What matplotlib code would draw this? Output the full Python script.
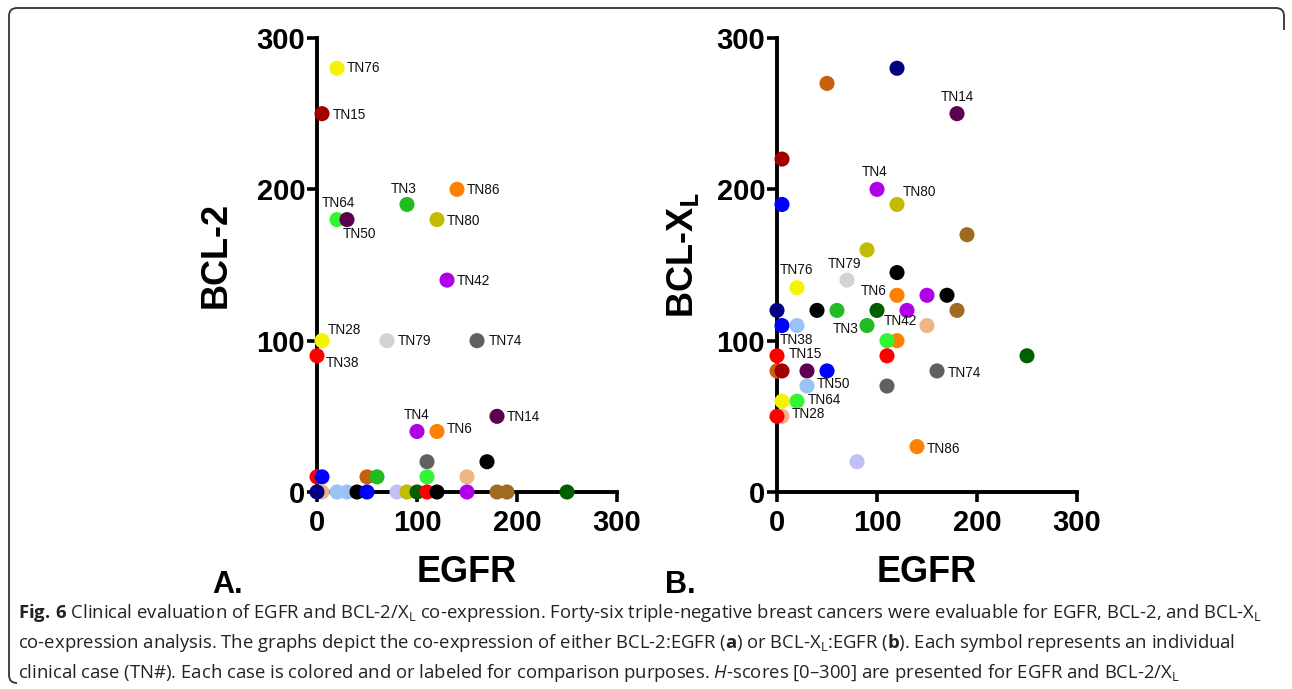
import matplotlib
matplotlib.use("Agg")
import matplotlib.pyplot as plt
import matplotlib.patches as mpatches
from matplotlib.path import Path

plt.rcParams['mathtext.fontset'] = 'custom'
plt.rcParams['mathtext.rm'] = 'Open Sans'
plt.rcParams['mathtext.bf'] = 'Open Sans:bold'
plt.rcParams['mathtext.it'] = 'Open Sans:italic'

# ---------------- data ----------------
C = {
    'yellow': '#f7f200', 'darkred': '#a00000', 'green': '#22bb22', 'orange': '#ff8000',
    'brightgreen': '#33f533', 'darkpurple': '#5e0050', 'olive': '#c2bb00', 'purple': '#b000e6',
    'red': '#ff0000', 'lightgray': '#d3d3d3', 'gray': '#606060', 'black': '#000000',
    'peach': '#f0b585', 'brownorange': '#c8600a', 'blue': '#0000ff', 'navy': '#000080',
    'lightblue': '#99c2f5', 'lavender': '#c0c0f5', 'darkgreen': '#006000', 'brown': '#a06a20',
}

# Panel A: BCL-2 vs EGFR
a_egfr = [20, 5, 90, 140, 20, 30, 120, 130, 5, 0, 70, 160, 100, 120, 180,
          170, 110, 110, 150, 50, 60, 0, 5, 5, 0, 20, 30, 40, 50, 80, 90, 100,
          110, 120, 150, 180, 190, 250]
a_bcl2 = [280, 250, 190, 200, 180, 180, 180, 140, 100, 90, 100, 100, 40, 40, 50,
          20, 20, 10, 10, 10, 10, 10, 10, 0, 0, 0, 0, 0, 0, 0, 0, 0,
          0, 0, 0, 0, 0, 0]
a_colors = ['yellow', 'darkred', 'green', 'orange', 'brightgreen', 'darkpurple', 'olive',
            'purple', 'yellow', 'red', 'lightgray', 'gray', 'purple', 'orange', 'darkpurple',
            'black', 'gray', 'brightgreen', 'peach', 'brownorange', 'green', 'red', 'blue',
            'peach', 'navy', 'lightblue', 'lightblue', 'black', 'blue', 'lavender', 'olive',
            'darkgreen', 'red', 'black', 'purple', 'brown', 'brown', 'darkgreen']
a_labels = {0: 'TN76', 1: 'TN15', 2: 'TN3', 3: 'TN86', 4: 'TN64', 5: 'TN50', 6: 'TN80',
            7: 'TN42', 8: 'TN28', 9: 'TN38', 10: 'TN79', 11: 'TN74', 12: 'TN4',
            13: 'TN6', 14: 'TN14'}

# Panel B: BCL-XL vs EGFR
b_egfr = [50, 120, 180, 5, 100, 5, 120, 190, 90, 120, 70, 20, 120, 150, 170, 0, 40, 60,
          100, 130, 180, 5, 20, 90, 150, 120, 110, 250, 0, 110, 0, 5, 30, 50, 160, 30,
          110, 5, 20, 5, 0, 140, 80]
b_bclxl = [270, 280, 250, 220, 200, 190, 190, 170, 160, 145, 140, 135, 130, 130, 130,
           120, 120, 120, 120, 120, 120, 110, 110, 110, 110, 100, 100, 90, 90, 90, 80,
           80, 80, 80, 80, 70, 70, 60, 60, 50, 50, 30, 20]
b_colors = ['brownorange', 'navy', 'darkpurple', 'darkred', 'purple', 'blue', 'olive',
            'brown', 'olive', 'black', 'lightgray', 'yellow', 'orange', 'purple', 'black',
            'navy', 'black', 'green', 'darkgreen', 'purple', 'brown', 'blue', 'lightblue',
            'green', 'peach', 'orange', 'brightgreen', 'darkgreen', 'red', 'red',
            'brownorange', 'darkred', 'darkpurple', 'blue', 'gray', 'lightblue', 'gray',
            'yellow', 'brightgreen', 'peach', 'red', 'orange', 'lavender']
b_labels = {2: 'TN14', 4: 'TN4', 6: 'TN80', 11: 'TN76', 10: 'TN79', 12: 'TN6', 23: 'TN3',
            19: 'TN42', 22: 'TN38', 28: 'TN15', 34: 'TN74', 35: 'TN50', 38: 'TN64',
            40: 'TN28', 41: 'TN86'}

ticks = [0, 100, 200, 300]

# label placement (pixel offsets: dx, dy downward, ha)
a_off = {0: (10, 0, 'left'), 1: (11, 1, 'left'), 2: (-3, -15, 'center'), 3: (10, 1, 'left'),
         4: (1, -17, 'center'), 5: (12, 14, 'center'), 6: (10, 1, 'left'), 7: (10, 1, 'left'),
         8: (22, -11, 'center'), 9: (25, 7, 'center'), 10: (11, 0, 'left'),
         11: (12, 0, 'left'), 12: (0, -16, 'center'), 13: (10, -2, 'left'), 14: (10, 1, 'left')}
b_off = {2: (0, -17, 'center'), 4: (-2, -17, 'center'), 6: (22, -12, 'center'),
         11: (0, -18, 'center'), 10: (-2, -16, 'center'), 12: (-10, -4, 'right'),
         23: (-8, 3, 'right'), 19: (-7, 11, 'center'), 22: (0, 14, 'center'),
         28: (12, -2, 'left'), 34: (11, 2, 'left'), 35: (10, -2, 'left'),
         38: (11, -1, 'left'), 40: (15, -2, 'left'), 41: (10, 2, 'left')}

W, H = 1292, 689
fig = plt.figure(figsize=(W / 100, H / 100), dpi=100)


def px(x, y):
    return x / W, 1 - y / H


def panel(left_px, xs, ys, cols, labels, offs):
    ax = fig.add_axes([left_px / W, (H - 492) / H, 300 / W, 454 / H])
    ax.set_xlim(0, 300)
    ax.set_ylim(0, 300)
    for s in ['top', 'right']:
        ax.spines[s].set_visible(False)
    for s in ['left', 'bottom']:
        ax.spines[s].set_linewidth(2.8)
        ax.spines[s].set_capstyle('projecting')
    ax.set_xticks(ticks)
    ax.set_yticks(ticks)
    ax.tick_params(length=7.5, width=2.6, labelsize=21, color='black')
    ax.tick_params(axis='x', pad=5)
    ax.tick_params(axis='y', pad=1)
    for lab in ax.get_xticklabels() + ax.get_yticklabels():
        lab.set_fontweight('bold')
        lab.set_family('Liberation Sans')
    ax.set_facecolor('none')
    for x, y, c in zip(xs, ys, cols):
        ax.scatter([x], [y], s=118, color=C[c], edgecolors='none', zorder=3, clip_on=False)
    for i, name in labels.items():
        dx, dy, ha = offs[i]
        ax.annotate(name, xy=(xs[i], ys[i]), xytext=(dx, -dy), textcoords='offset pixels',
                    ha=ha, va='center', fontsize=9.8, family='Liberation Sans',
                    color='#111111', zorder=4)
    return ax


axA = panel(317, a_egfr, a_bcl2, a_colors, a_labels, a_off)
axB = panel(777, b_egfr, b_bclxl, b_colors, b_labels, b_off)

lab_kw = dict(fontsize=26, fontweight='bold', family='Liberation Sans', ha='center', va='center')
fig.text(*px(467, 572), 'EGFR', **lab_kw)
fig.text(*px(927, 572), 'EGFR', **lab_kw)
fig.text(*px(216, 255), 'BCL-2', rotation=90, **lab_kw)
fig.text(*px(683, 255), r'BCL-X$_\mathbf{L}$', rotation=90, **lab_kw)
fig.text(*px(228, 585), 'A.', fontsize=22, fontweight='bold', family='Liberation Sans',
         ha='center', va='center')
fig.text(*px(680, 585), 'B.', fontsize=22, fontweight='bold', family='Liberation Sans',
         ha='center', va='center')

# caption
cap_kw = dict(fontsize=13.3, family='Open Sans', color='#222222', ha='left', va='center')
lines = [
    r'$\mathbf{Fig.}\,\mathbf{6}$ Clinical evaluation of EGFR and BCL-2/X$_\mathrm{L}$ co-expression. '
    r'Forty-six triple-negative breast cancers were evaluable for EGFR, BCL-2, and BCL-X$_\mathrm{L}$',
    r'co-expression analysis. The graphs depict the co-expression of either BCL-2:EGFR ($\mathbf{a}$) '
    r'or BCL-X$_\mathrm{L}$:EGFR ($\mathbf{b}$). Each symbol represents an individual',
    r'clinical case (TN#). Each case is colored and or labeled for comparison purposes. '
    r'$\mathit{H}$-scores [0–300] are presented for EGFR and BCL-2/X$_\mathrm{L}$',
]
for k, ln in enumerate(lines):
    fig.text(*px(18, 613 + 30 * k), ln, **cap_kw)

# border (rounded, open at lower right)
r = 8
x0, x1, y0, y1 = 9, 1284, 8, 683
verts = [(x1, 30), (x1, y0 + r), (x1, y0), (x1 - r, y0), (x0 + r, y0), (x0, y0), (x0, y0 + r),
         (x0, y1 - r), (x0, y1), (x0 + r, y1)]
codes = [Path.MOVETO, Path.LINETO, Path.CURVE3, Path.CURVE3, Path.LINETO, Path.CURVE3,
         Path.CURVE3, Path.LINETO, Path.CURVE3, Path.CURVE3]
verts_f = [px(x, y) for x, y in verts]
fig.patches.append(mpatches.PathPatch(Path(verts_f, codes), transform=fig.transFigure,
                                      fill=False, lw=1.3, edgecolor='#333333'))

fig.savefig('out.png', dpi=100)
